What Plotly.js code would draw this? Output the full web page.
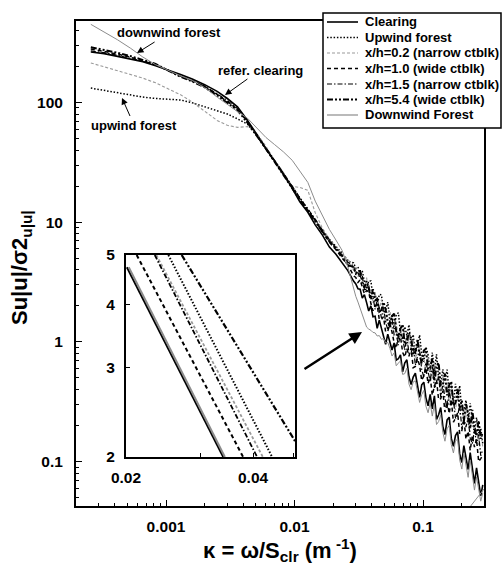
<!DOCTYPE html>
<html><head><meta charset="utf-8">
<script src="https://cdn.plot.ly/plotly-3.0.1.min.js"></script>
<style>html,body{margin:0;padding:0;background:#fff}#chart{width:503px;height:568px}</style>
</head><body><div id="chart"></div>
<script>
// ---- data ----
const kappa = [0.00026, 0.00033, 0.00042, 0.00053, 0.00066, 0.00083, 0.00105, 0.0013, 0.0016, 0.002, 0.0025,
  0.003, 0.0036, 0.0043, 0.0051, 0.006, 0.007, 0.0082, 0.0096, 0.011, 0.0127, 0.0145, 0.0165, 0.0187, 0.021, 0.0235, 0.026, 0.0288,
  0.030, 0.0312, 0.0324, 0.0337, 0.035, 0.0364, 0.0378, 0.0393, 0.0408, 0.0424, 0.044, 0.0457, 0.0475, 0.0493, 0.0512, 0.0532,
  0.0553, 0.0574, 0.0596, 0.0619, 0.0643, 0.0668, 0.0694, 0.0721, 0.0749, 0.0778, 0.0808, 0.0839, 0.0872, 0.0906, 0.0941, 0.0977,
  0.1015, 0.1054, 0.1095, 0.1137, 0.1181, 0.1227, 0.1274, 0.1323, 0.1374, 0.1427, 0.1482, 0.154, 0.16, 0.166, 0.1725, 0.179, 0.186,
  0.193, 0.2005, 0.208, 0.216, 0.2245, 0.233, 0.242, 0.2515, 0.261, 0.271, 0.2815, 0.292];

const clearing = [264, 256, 243, 231, 219, 203, 187, 171, 157, 141, 124, 108, 92, 71, 54, 41, 32.5, 25.5, 19.2, 14.8,
  12.1, 9.5, 7.8, 6.2, 5.4, 4.55, 3.94, 3.22,
  3.05, 2.78, 2.76, 2.32, 2.48, 2.13, 1.81, 2.0, 1.62, 1.64, 1.30, 1.52, 1.28, 1.07, 0.955, 1.16, 0.987, 0.855, 0.981, 0.704,
  0.723, 0.781, 0.562, 0.666, 0.709, 0.511, 0.44, 0.508, 0.547, 0.419, 0.344, 0.438, 0.461, 0.341, 0.292, 0.365, 0.276, 0.354,
  0.225, 0.246, 0.283, 0.197, 0.168, 0.223, 0.235, 0.157, 0.134, 0.165, 0.177, 0.116, 0.0983, 0.136, 0.110, 0.0859, 0.119,
  0.0853, 0.0657, 0.0885, 0.0659, 0.0517, 0.0638];

const upwindForest = [132, 126, 121, 116, 111, 108, 106.6, 105, 99.5, 92.6, 86.2, 80.2, 73, 66, 53, 41, 32, 25.5, 19.5, 15.8,
  12.8, 10.4, 8.5, 7.2, 6.3, 5.5, 4.73, 4.57,
  4.12, 4.23, 3.49, 3.92, 3.19, 2.81, 3.23, 3.23, 2.38, 2.53, 1.99, 2.49, 2.47, 1.76, 1.82, 2.15, 1.47, 1.69, 1.28, 1.68,
  1.75, 1.19, 1.04, 1.34, 1.13, 1.39, 0.924, 1.15, 0.783, 0.933, 1.14, 0.781, 0.681, 0.908, 0.780, 0.562, 0.816, 0.572,
  0.787, 0.496, 0.439, 0.590, 0.472, 0.586, 0.361, 0.448, 0.306, 0.447, 0.325, 0.432, 0.263, 0.267, 0.326, 0.212, 0.307,
  0.224, 0.171, 0.233, 0.173, 0.190, 0.141];

const xh02 = [214, 199, 184.5, 171.6, 160, 146, 129, 116, 101, 84.6, 70.8, 64.5, 62, 63, 55, 43, 33, 26, 20, 19.5,
  18.5, 12, 8.9, 7.2, 6.2, 5.3, 4.95, 3.97,
  4.2, 3.50, 3.96, 3.40, 2.82, 3.44, 2.66, 2.73, 2.12, 2.60, 2.10, 1.82, 2.26, 1.87, 1.45, 1.77, 1.83, 1.30, 1.32, 1.48,
  1.06, 1.08, 1.37, 1.10, 0.862, 1.11, 0.865, 1.06, 0.734, 0.80, 0.949, 0.646, 0.761, 0.546, 0.741, 0.569, 0.493, 0.683,
  0.478, 0.524, 0.383, 0.526, 0.378, 0.445, 0.297, 0.434, 0.307, 0.270, 0.359, 0.247, 0.298, 0.205, 0.280, 0.205, 0.177,
  0.245, 0.169, 0.181, 0.137, 0.182, 0.131];

const xh10 = [280, 268, 254, 239, 224, 207, 185, 166, 152, 136, 117, 102, 88, 69, 53, 41, 32.5, 25.5, 19.5, 15.5,
  12.6, 10.3, 8.3, 6.8, 5.9, 5.0, 4.42, 3.57,
  3.45, 3.14, 3.30, 2.86, 2.52, 2.69, 2.63, 2.09, 1.82, 2.02, 2.04, 1.54, 1.54, 1.62, 1.21, 1.23, 1.42, 1.21, 0.983, 0.887,
  1.11, 1.11, 0.819, 0.747, 0.879, 0.758, 0.887, 0.609, 0.623, 0.724, 0.635, 0.476, 0.520, 0.606, 0.449, 0.513, 0.359, 0.426,
  0.483, 0.329, 0.335, 0.389, 0.259, 0.322, 0.252, 0.330, 0.213, 0.231, 0.255, 0.171, 0.181, 0.227, 0.154, 0.179, 0.124,
  0.165, 0.132, 0.154, 0.100, 0.106, 0.113];

const xh15 = [270, 261, 248, 234, 221, 205, 184, 166, 152, 137, 118, 104, 89, 70, 54, 42, 33, 26, 20, 16,
  13, 10.6, 8.6, 7.1, 6.1, 5.3, 4.63, 4.32,
  3.64, 3.80, 3.40, 3.58, 2.74, 2.75, 2.99, 2.28, 2.37, 1.87, 2.22, 1.93, 1.59, 1.94, 1.47, 1.26, 1.51, 1.59, 1.14, 1.16,
  0.939, 1.19, 1.08, 0.851, 1.13, 0.795, 0.808, 0.932, 0.638, 0.757, 0.832, 0.590, 0.507, 0.675, 0.574, 0.470, 0.623, 0.414,
  0.440, 0.516, 0.346, 0.438, 0.340, 0.276, 0.394, 0.296, 0.327, 0.230, 0.239, 0.301, 0.188, 0.232, 0.194, 0.234, 0.157,
  0.141, 0.186, 0.141, 0.169, 0.112, 0.126];

const xh54 = [290, 276, 260, 244, 228, 210, 184, 164, 150, 134, 115, 100, 86, 68, 53, 41, 32, 25, 19.2, 15.4,
  12.5, 10.2, 8.3, 6.9, 6.0, 5.2, 4.40, 4.21,
  3.75, 3.90, 3.91, 3.15, 2.84, 3.23, 2.81, 2.31, 2.76, 2.22, 2.29, 1.79, 1.85, 2.15, 1.86, 1.47, 1.33, 1.65, 1.72, 1.22,
  1.11, 1.29, 1.40, 0.953, 1.0, 1.19, 1.08, 0.783, 0.821, 1.04, 0.780, 0.665, 0.847, 0.877, 0.592, 0.605, 0.726, 0.476,
  0.624, 0.670, 0.433, 0.437, 0.544, 0.358, 0.438, 0.468, 0.295, 0.308, 0.405, 0.282, 0.325, 0.218, 0.303, 0.255, 0.190,
  0.270, 0.191, 0.164, 0.220, 0.155, 0.177];

const downwindForest = [450, 388, 334, 284, 240, 207, 184, 167, 153, 133, 111, 96, 84, 74, 60.5, 51, 44.5, 38.7, 32.9, 27,
  21.5, 15, 11.3, 8.7, 7.1, 5.8, 4.23, 2.76,
  2.4, 2.15, 1.92, 1.68, 1.5, 1.33, 1.28, 1.25, 1.2, 1.19, 1.12, 1.13, 1.05, 1.07, 0.98, 0.99, 0.882, 0.762, 0.809, 0.632,
  0.665, 0.693, 0.535, 0.543, 0.604, 0.444, 0.399, 0.463, 0.473, 0.372, 0.312, 0.363, 0.393, 0.290, 0.256, 0.309, 0.240,
  0.302, 0.204, 0.216, 0.245, 0.175, 0.148, 0.188, 0.201, 0.139, 0.118, 0.149, 0.154, 0.103, 0.0866, 0.118, 0.0957, 0.0739,
  0.103, 0.0758, 0.0578, 0.0745, 0.0583, 0.0467, 0.0548];
const downwindTailX = [0.232, 0.2985];
const downwindTailY = [0.0418, 0.059];

// inset (magnified fitted lines, 0.02-0.05 by 2-5)
const insetClearingX = [0.0201, 0.0340], insetClearingY = [4.73, 2];
const insetDownwindX = [0.0203, 0.0343], insetDownwindY = [4.73, 2];
const insetXh10X = [0.0212, 0.0379], insetXh10Y = [5, 2];
const insetXh15X = [0.0234, 0.0409], insetXh15Y = [5, 2];
const insetXh02X = [0.0236, 0.0422], insetXh02Y = [5, 2];
const insetUpwindX = [0.0252, 0.0444], insetUpwindY = [5, 2];
const insetXh54X = [0.0271, 0.0503], insetXh54Y = [5, 2.15];

const mainXTicks = [0.001, 0.01, 0.1], mainXTickText = ['0.001', '0.01', '0.1'];
const mainYTicks = [0.1, 1, 10, 100], mainYTickText = ['0.1', '1', '10', '100'];
const insetXTicks = [0.02, 0.04], insetXTickText = ['0.02', '0.04'];
const insetXMinor = [0.03, 0.05];
const insetYTicks = [2, 3, 4, 5], insetYTickText = ['2', '3', '4', '5'];

// ---- styling ----
const FONT = '"Liberation Sans", Arial, Helvetica, sans-serif';
const L = 76, R = 484, T = 21, B = 506;
const px = x => (x - L) / (R - L);
const py = y => 1 - (y - T) / (B - T);

const series = [
  {name: 'Clearing', y: clearing, color: '#000', width: 1.6, dash: 'solid', ix: insetClearingX, iy: insetClearingY, iw: 2},
  {name: 'Upwind forest', y: upwindForest, color: '#000', width: 1.5, dash: '1.5px,1.8px', ix: insetUpwindX, iy: insetUpwindY, iw: 2},
  {name: 'x/h=0.2 (narrow ctblk)', y: xh02, color: '#9a9a9a', width: 1.1, dash: '3px,2px', ix: insetXh02X, iy: insetXh02Y, iw: 1.8},
  {name: 'x/h=1.0 (wide ctblk)', y: xh10, color: '#000', width: 1.5, dash: '4px,3px', ix: insetXh10X, iy: insetXh10Y, iw: 2},
  {name: 'x/h=1.5 (narrow ctblk)', y: xh15, color: '#000', width: 1.2, dash: '5px,2px,1.5px,2px', ix: insetXh15X, iy: insetXh15Y, iw: 1.8},
  {name: 'x/h=5.4 (wide ctblk)', y: xh54, color: '#000', width: 2, dash: '6px,2px,2px,2px,2px,2px', ix: insetXh54X, iy: insetXh54Y, iw: 2.2},
  {name: 'Downwind Forest', y: downwindForest, color: '#8c8c8c', width: 1, dash: 'solid', ix: insetDownwindX, iy: insetDownwindY, iw: 2}
];

const traces = [];
series.forEach(s => {
  traces.push({x: kappa, y: s.y, type: 'scatter', mode: 'lines', name: s.name,
    line: {color: s.color, width: s.width, dash: s.dash}, showlegend: false, hoverinfo: 'skip'});
});
traces.push({x: downwindTailX, y: downwindTailY, type: 'scatter', mode: 'lines',
  line: {color: '#8c8c8c', width: 1}, showlegend: false, hoverinfo: 'skip'});
series.forEach(s => {
  traces.push({x: s.ix, y: s.iy, xaxis: 'x2', yaxis: 'y2', type: 'scatter', mode: 'lines',
    line: {color: s.color, width: s.iw, dash: s.dash}, showlegend: false, hoverinfo: 'skip'});
});

function minorVals(lo, hi, maxV) {
  const v = [];
  for (let e = lo; e <= hi; e++) for (let d = 2; d <= 9; d++) { const t = d * Math.pow(10, e); if (t <= maxV) v.push(t); }
  return v;
}

const tickFont = {family: FONT, size: 15.5, color: '#000', weight: 'bold'};
const axisCommon = {type: 'log', showgrid: false, zeroline: false, showline: true, mirror: true,
  linecolor: '#000', linewidth: 2, ticks: 'inside', ticklen: 6, tickwidth: 1, tickcolor: '#000', tickfont: tickFont};

// legend drawn in the plot's own paper space
const shapes = [];
const annotations = [];
const legTop = 13, legBottom = 128, legLeft = 323, legRight = 501, legRow0 = 22, legStep = 15.5;
shapes.push({type: 'rect', xref: 'paper', yref: 'paper', x0: px(legLeft), x1: px(legRight), y0: py(legBottom), y1: py(legTop),
  line: {color: '#000', width: 1.5}, fillcolor: '#fff', layer: 'above'});
series.forEach((s, i) => {
  const yy = py(legRow0 + i * legStep);
  shapes.push({type: 'line', xref: 'paper', yref: 'paper', x0: px(327), x1: px(358), y0: yy, y1: yy,
    line: {color: s.color, width: Math.max(s.width, 1.2), dash: s.dash}, layer: 'above'});
  annotations.push({xref: 'paper', yref: 'paper', x: px(363), y: yy, xanchor: 'left', yanchor: 'middle',
    text: s.name, showarrow: false, font: {family: FONT, size: 13, color: '#000', weight: 'bold'}});
});

const annFont = {family: FONT, size: 13, color: '#000', weight: 'bold'};
annotations.push({xref: 'paper', yref: 'paper', x: px(137), y: py(53), ax: 32, ay: -20, text: 'downwind forest',
  showarrow: true, arrowhead: 2, arrowsize: 1.3, arrowwidth: 1, arrowcolor: '#000', font: annFont});
annotations.push({xref: 'paper', yref: 'paper', x: px(225), y: py(95), ax: 35, ay: -25, text: 'refer. clearing',
  showarrow: true, arrowhead: 2, arrowsize: 1.3, arrowwidth: 1, arrowcolor: '#000', font: annFont});
annotations.push({xref: 'paper', yref: 'paper', x: px(122), y: py(98), ax: 12, ay: 27, text: 'upwind forest',
  showarrow: true, arrowhead: 2, arrowsize: 1.3, arrowwidth: 1, arrowcolor: '#000', font: annFont});
annotations.push({xref: 'paper', yref: 'paper', x: px(362), y: py(332), ax: -59, ay: 38, text: '',
  showarrow: true, arrowhead: 2, arrowsize: 1, arrowwidth: 2.5, arrowcolor: '#000'});
// y-axis title, placed as rotated text for exact position
annotations.push({xref: 'paper', yref: 'paper', x: px(21), y: py(268), xanchor: 'center', yanchor: 'middle',
  textangle: -90, text: 'Su|u|/σ2<sub>u|u|</sub>', showarrow: false,
  font: {family: FONT, size: 22, color: '#000', weight: 'bold'}});

const layout = {
  width: 503, height: 568,
  margin: {l: L, r: 503 - R, t: T, b: 568 - B, pad: 0},
  paper_bgcolor: '#fff', plot_bgcolor: '#fff',
  showlegend: false,
  font: {family: FONT, color: '#000'},
  xaxis: Object.assign({}, axisCommon, {
    range: [-3.7004, -0.5253], tickmode: 'array', tickvals: mainXTicks, ticktext: mainXTickText,
    ticklabelstandoff: 5,
    minor: {tickmode: 'array', tickvals: minorVals(-4, -1, 0.3), ticks: 'inside', ticklen: 3, tickwidth: 1, tickcolor: '#000'},
    title: {text: 'κ = ω/S<sub>clr</sub> (m<sup> -1</sup>)', font: {family: FONT, size: 22, color: '#000', weight: 'bold'}, standoff: 8}
  }),
  yaxis: Object.assign({}, axisCommon, {
    range: [-1.371, 2.681], tickmode: 'array', tickvals: mainYTicks, ticktext: mainYTickText,
    ticklabelstandoff: 8,
    minor: {tickmode: 'array', tickvals: minorVals(-2, 2, 480), ticks: 'inside', ticklen: 3, tickwidth: 1, tickcolor: '#000'}
  }),
  xaxis2: Object.assign({}, axisCommon, {
    domain: [px(126), px(295)], anchor: 'y2', range: [Math.log10(0.02), -1.2985],
    tickmode: 'array', tickvals: insetXTicks, ticktext: insetXTickText, ticklen: 4, ticklabelstandoff: 5,
    minor: {tickmode: 'array', tickvals: insetXMinor, ticks: 'inside', ticklen: 4, tickwidth: 1, tickcolor: '#000'}
  }),
  yaxis2: Object.assign({}, axisCommon, {
    domain: [py(457), py(255)], anchor: 'x2', range: [Math.log10(2), Math.log10(5)],
    tickmode: 'array', tickvals: insetYTicks, ticktext: insetYTickText, ticklen: 4, ticklabelstandoff: 6
  }),
  shapes: shapes,
  annotations: annotations
};

Plotly.newPlot('chart', traces, layout, {staticPlot: true, displayModeBar: false});
</script>
</body></html>
